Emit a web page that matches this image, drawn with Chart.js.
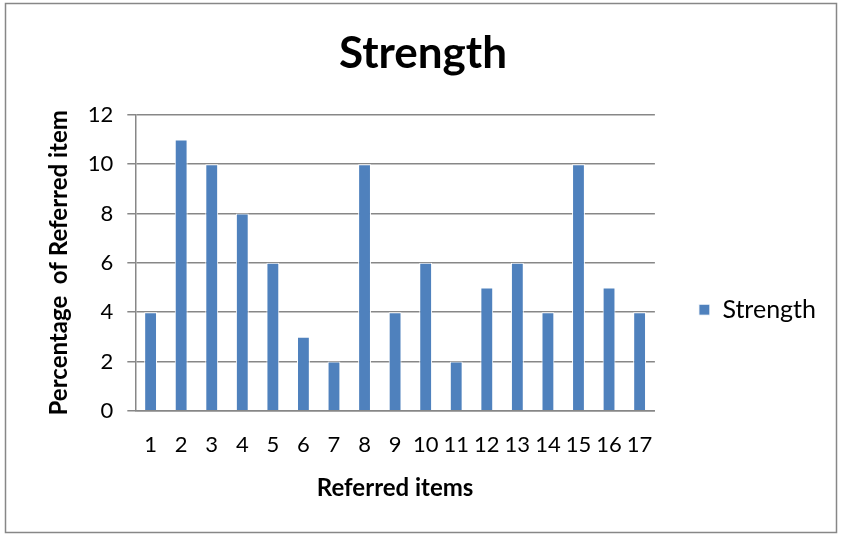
<!DOCTYPE html>
<html>
<head>
<meta charset="utf-8">
<script src="https://cdn.jsdelivr.net/npm/chart.js@4/dist/chart.umd.min.js"></script>
<style>
  body { margin: 0; background: #fff; }
  #wrap { width: 841px; height: 535px; }
</style>
</head>
<body>
<div id="wrap"><canvas id="strength-chart" width="841" height="535"></canvas></div>
<script>
var categories = ['1', '2', '3', '4', '5', '6', '7', '8', '9', '10', '11', '12', '13', '14', '15', '16', '17'];
var strengthValues = [4, 11, 10, 8, 6, 3, 2, 10, 4, 6, 2, 5, 6, 4, 10, 5, 4];
var yTicks = [0, 2, 4, 6, 8, 10, 12];

var fontFamily = 'Lato, "Open Sans", sans-serif';

// outer frame like the office chart border
var framePlugin = {
  id: 'frame',
  beforeDraw: function (chart) {
    var ctx = chart.ctx;
    ctx.save();
    ctx.fillStyle = '#fff';
    ctx.fillRect(0, 0, chart.width, chart.height);
    ctx.strokeStyle = '#878787';
    ctx.lineWidth = 1.5;
    ctx.strokeRect(5.5, 3.5, 831, 529);
    ctx.restore();
  }
};

var chartContext = document.getElementById('strength-chart');

var strengthChart = new Chart(chartContext, {
  type: 'bar',
  data: {
    labels: categories,
    datasets: [
      {
        label: 'Strength',
        data: strengthValues,
        backgroundColor: '#4F81BD',
        borderColor: '#ffffff',
        borderWidth: 1,
        barPercentage: 0.42,
        categoryPercentage: 1
      }
    ]
  },
  options: {
    responsive: false,
    animation: false,
    layout: {
      padding: { left: 20, right: 15, top: 10, bottom: 28 }
    },
    plugins: {
      title: {
        display: true,
        text: 'Strength',
        color: '#000',
        font: { family: fontFamily, size: 44, weight: 'bold' },
        padding: { top: 17, bottom: 35 }
      },
      legend: {
        position: 'right',
        title: {
          display: true,
          text: ' ',
          padding: { top: 88, bottom: 0 }
        },
        labels: {
          color: '#000',
          font: { family: fontFamily, size: 25 },
          boxWidth: 11,
          boxHeight: 11,
          padding: 44
        }
      },
      tooltip: { enabled: false }
    },
    scales: {
      x: {
        grid: { display: false, drawTicks: false },
        border: { display: true, color: '#878787', width: 1.5 },
        ticks: {
          color: '#000',
          font: { family: fontFamily, size: 22 },
          padding: 21,
          maxRotation: 0,
          autoSkip: false
        },
        title: {
          display: true,
          text: 'Referred items',
          color: '#000',
          font: { family: fontFamily, size: 24, weight: 'bold' },
          padding: { top: -5 }
        }
      },
      y: {
        min: 0,
        max: 12,
        afterBuildTicks: function (axis) {
          axis.ticks = yTicks.map(function (v) { return { value: v }; });
        },
        grid: { color: '#878787', lineWidth: 1.5, tickLength: 8 },
        border: { display: true, color: '#878787', width: 1.5 },
        ticks: {
          color: '#000',
          font: { family: fontFamily, size: 22 },
          padding: 14
        },
        title: {
          display: true,
          text: 'Percentage  of Referred item',
          color: '#000',
          font: { family: fontFamily, size: 24, weight: 'bold' },
          padding: { top: 25, bottom: 0 }
        }
      }
    }
  },
  plugins: [framePlugin]
});
</script>
</body>
</html>
